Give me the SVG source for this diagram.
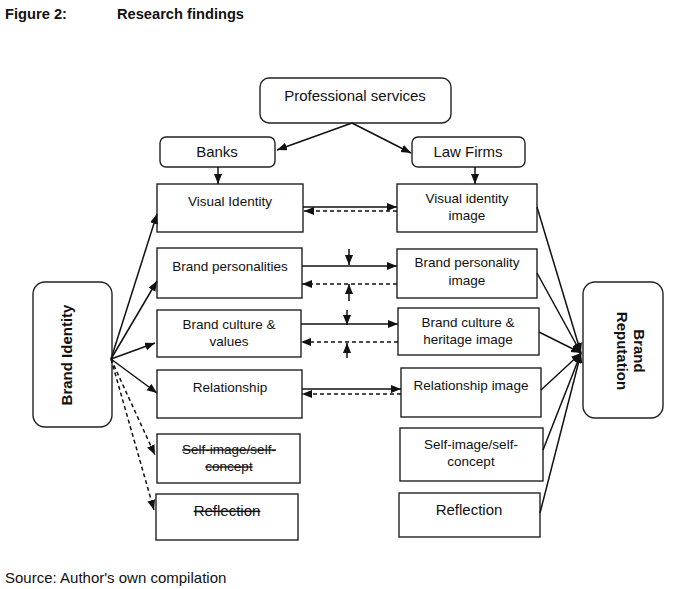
<svg xmlns="http://www.w3.org/2000/svg" width="679" height="589" viewBox="0 0 679 589">
<style>
text{font-family:"Liberation Sans",Arial,sans-serif;fill:#111;}
.t{font-size:13.5px;text-anchor:middle;}
.tl{font-size:15px;text-anchor:middle;}
.b{font-weight:bold;}
.box{fill:#fff;stroke:#222;stroke-width:1.4;}
.ln{stroke:#111;stroke-width:1.5;fill:none;}
.dl{stroke:#111;stroke-width:1.5;fill:none;stroke-dasharray:4 3;}
.strike{text-decoration:line-through;}
</style>
<defs>
<marker id="ah" markerUnits="userSpaceOnUse" markerWidth="11" markerHeight="9" refX="10" refY="4" orient="auto">
<path d="M0,0 L10,4 L0,8 z" fill="#111"/>
</marker>
</defs>
<rect width="679" height="589" fill="#fff"/>
<text x="5" y="19" class="b" font-size="15.5" textLength="62" lengthAdjust="spacingAndGlyphs">Figure 2:</text>
<text x="117" y="19" class="b" font-size="15.5" textLength="127" lengthAdjust="spacingAndGlyphs">Research findings</text>
<text x="5" y="583" font-size="15">Source: Author's own compilation</text>

<g id="professional-services"><rect class="box" x="260" y="78" width="191" height="45" rx="9"/><text class="tl" x="355" y="101">Professional services</text></g>
<g id="banks"><rect class="box" x="160" y="137" width="115" height="30" rx="6"/><text class="tl" x="217" y="157">Banks</text></g>
<g id="law-firms"><rect class="box" x="412" y="137" width="113" height="30" rx="6"/><text class="tl" x="468" y="157">Law Firms</text></g>

<g id="visual-identity"><rect class="box" x="157" y="184" width="146" height="48"/><text class="t" x="230" y="206">Visual Identity</text></g>
<g id="brand-personalities"><rect class="box" x="157" y="248" width="145" height="50"/><text class="t" x="230" y="271">Brand personalities</text></g>
<g id="brand-culture-values"><rect class="box" x="157" y="310" width="144" height="47"/><text class="t" x="229" y="329">Brand culture &amp;</text><text class="t" x="229" y="346">values</text></g>
<g id="relationship"><rect class="box" x="157" y="370" width="145" height="48"/><text class="t" x="230" y="392">Relationship</text></g>
<g id="self-image-struck"><rect class="box" x="157" y="434" width="143" height="49"/><text class="t strike" x="229" y="454">Self-image/self-</text><text class="t strike" x="229" y="471">concept</text></g>
<g id="reflection-struck"><rect class="box" x="156" y="494" width="142" height="46"/><text class="tl strike" x="227" y="516">Reflection</text></g>

<g id="visual-identity-image"><rect class="box" x="397" y="184" width="140" height="48"/><text class="t" x="467" y="203">Visual identity</text><text class="t" x="467" y="220">image</text></g>
<g id="brand-personality-image"><rect class="box" x="397" y="249" width="140" height="49"/><text class="t" x="467" y="267">Brand personality</text><text class="t" x="467" y="285">image</text></g>
<g id="brand-culture-heritage-image"><rect class="box" x="398" y="308" width="141" height="47"/><text class="t" x="468" y="327">Brand culture &amp;</text><text class="t" x="468" y="344">heritage image</text></g>
<g id="relationship-image"><rect class="box" x="401" y="368" width="140" height="49"/><text class="t" x="471" y="390">Relationship image</text></g>
<g id="self-image"><rect class="box" x="400" y="428" width="143" height="53"/><text class="t" x="471" y="449">Self-image/self-</text><text class="t" x="471" y="466">concept</text></g>
<g id="reflection"><rect class="box" x="399" y="493" width="141" height="44"/><text class="tl" x="469" y="515">Reflection</text></g>

<g id="brand-identity"><rect class="box" x="33" y="282" width="79" height="145" rx="12"/><text class="b" font-size="15" text-anchor="middle" transform="translate(72,355) rotate(-90)">Brand Identity</text></g>
<g id="brand-reputation"><rect class="box" x="583" y="282" width="80" height="136" rx="12"/><text class="b" font-size="15" text-anchor="middle" transform="translate(634,351) rotate(90)">Brand</text><text class="b" font-size="15" text-anchor="middle" transform="translate(617,351) rotate(90)">Reputation</text></g>

<g id="connectors">
<line class="ln" x1="352" y1="123" x2="277" y2="150" marker-end="url(#ah)"/>
<line class="ln" x1="352" y1="123" x2="411" y2="153" marker-end="url(#ah)"/>
<line class="ln" x1="218" y1="167" x2="218" y2="184" marker-end="url(#ah)"/>
<line class="ln" x1="475" y1="167" x2="475" y2="184" marker-end="url(#ah)"/>

<line class="ln" x1="303" y1="207" x2="397" y2="207" marker-end="url(#ah)"/>
<line class="dl" x1="397" y1="211" x2="304" y2="211" marker-end="url(#ah)"/>
<line class="ln" x1="302" y1="266" x2="397" y2="266" marker-end="url(#ah)"/>
<line class="dl" x1="397" y1="284" x2="302" y2="284" marker-end="url(#ah)"/>
<line class="ln" x1="301" y1="324" x2="398" y2="324" marker-end="url(#ah)"/>
<line class="dl" x1="398" y1="342" x2="301" y2="342" marker-end="url(#ah)"/>
<line class="ln" x1="302" y1="389" x2="401" y2="389" marker-end="url(#ah)"/>
<line class="dl" x1="401" y1="394" x2="302" y2="394" marker-end="url(#ah)"/>

<line class="ln" x1="349" y1="249" x2="349" y2="265" marker-end="url(#ah)"/>
<line class="ln" x1="349" y1="301" x2="349" y2="284" marker-end="url(#ah)"/>
<line class="ln" x1="347" y1="310" x2="347" y2="325" marker-end="url(#ah)"/>
<line class="ln" x1="347" y1="358" x2="347" y2="343" marker-end="url(#ah)"/>

<line class="ln" x1="111" y1="359" x2="157" y2="214" marker-end="url(#ah)"/>
<line class="ln" x1="111" y1="359" x2="157" y2="281" marker-end="url(#ah)"/>
<line class="ln" x1="111" y1="359" x2="155" y2="343" marker-end="url(#ah)"/>
<line class="ln" x1="111" y1="359" x2="157" y2="393" marker-end="url(#ah)"/>
<line class="dl" x1="111" y1="359" x2="155" y2="455" marker-end="url(#ah)"/>
<line class="dl" x1="111" y1="359" x2="154" y2="510" marker-end="url(#ah)"/>

<line class="ln" x1="537" y1="207" x2="581" y2="353" marker-end="url(#ah)"/>
<line class="ln" x1="537" y1="273" x2="581" y2="353" marker-end="url(#ah)"/>
<line class="ln" x1="539" y1="332" x2="581" y2="353" marker-end="url(#ah)"/>
<line class="ln" x1="541" y1="390" x2="581" y2="353" marker-end="url(#ah)"/>
<line class="ln" x1="543" y1="450" x2="581" y2="353" marker-end="url(#ah)"/>
<line class="ln" x1="540" y1="513" x2="581" y2="353" marker-end="url(#ah)"/>
</g>
</svg>
